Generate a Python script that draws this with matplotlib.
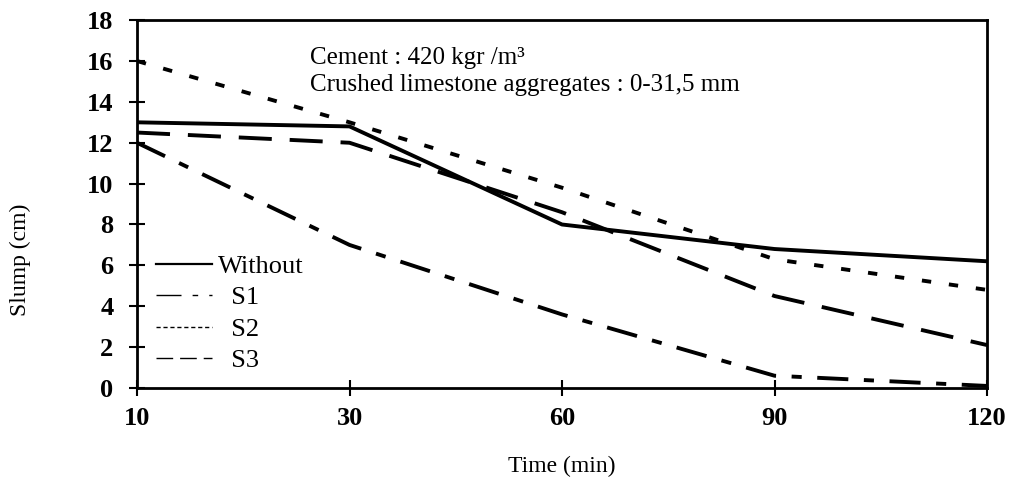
import matplotlib
matplotlib.use("Agg")
import matplotlib.pyplot as plt
from matplotlib.lines import Line2D

times = ["10", "30", "60", "90", "120"]
without = [13.0, 12.8, 8.0, 6.8, 6.2]
s1 = [12.0, 7.0, 3.6, 0.6, 0.1]
s2 = [16.0, 13.0, 9.8, 6.3, 4.8]
s3 = [12.5, 12.0, 8.6, 4.5, 2.1]
yticks = [0, 2, 4, 6, 8, 10, 12, 14, 16, 18]

serif = ["Liberation Serif", "DejaVu Serif"]
plt.rcParams["font.family"] = serif

fig = plt.figure(figsize=(10.11, 4.91), dpi=100)
ax = fig.add_axes([0.1355, 0.2098, 0.9763 - 0.1355, 0.959 - 0.2098])

x = list(range(len(times)))
lw = 2.8
ax.plot(x, without, color="black", lw=lw, solid_capstyle="butt")
ax.plot(x, s1, color="black", lw=lw, dashes=(8.0, 4.0, 2.6, 4.0))
ax.plot(x, s2, color="black", lw=lw, dashes=(2.4, 4.6))
ax.plot(x, s3, color="black", lw=lw, dashes=(8.5, 4.6))

ax.set_xlim(0, len(times) - 1)
ax.set_ylim(0, 18)
ax.set_xticks(x)
ax.set_xticklabels(times, fontsize=19, fontweight="bold")
ax.set_yticks(yticks)
ax.set_yticklabels([str(v) for v in yticks], fontsize=19, fontweight="bold")
ax.tick_params(axis="both", direction="inout", length=12, width=1.5, colors="black")
ax.tick_params(axis="x", pad=8)
ax.tick_params(axis="y", pad=11)
for sp in ax.spines.values():
    sp.set_linewidth(2)

ax.set_xlabel("Time (min)", fontsize=17)
ax.xaxis.set_label_coords(0.5, -0.185)
ax.set_ylabel("Slump (cm)", fontsize=17)
ax.yaxis.set_label_coords(-0.125, 0.348)

ax.text(0.2035, 0.897, "Cement : 420 kgr /m³", transform=ax.transAxes, fontsize=18, va="center")
ax.text(0.2035, 0.823, "Crushed limestone aggregates : 0-31,5 mm", transform=ax.transAxes, fontsize=18, va="center")

handles = [
    Line2D([], [], color="black", lw=1.6),
    Line2D([], [], color="black", lw=1.0, dashes=(18, 8, 4, 8)),
    Line2D([], [], color="black", lw=1.0, dashes=(3, 2)),
    Line2D([], [], color="black", lw=1.0, dashes=(12, 5)),
]
labels = ["Without", "  S1", "  S2", "  S3"]
leg = ax.legend(handles, labels, loc="lower left", bbox_to_anchor=(0.004, 0.0), frameon=False,
                fontsize=19, handlelength=2.1, handletextpad=0.25, labelspacing=0.3,
                borderaxespad=0.2)

fig.savefig("out.png", dpi=100)
